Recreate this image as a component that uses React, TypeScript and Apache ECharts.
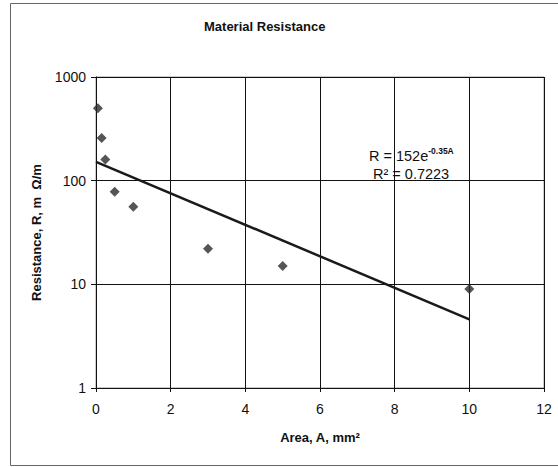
import React, { useEffect, useRef } from "react";
import * as echarts from "echarts";

const areas = [0.05, 0.15, 0.25, 0.5, 1, 3, 5, 10];
const resistances = [500, 258, 160, 78, 56, 22, 15, 9];
const trendAreas = [0, 10];
const trendValues = [152, 4.6];
const xTicks = [0, 2, 4, 6, 8, 10, 12];
const yTicks = [1, 10, 100, 1000];

const FONT = "'Liberation Sans', Arial, sans-serif";

export default function App() {
  const ref = useRef<HTMLDivElement>(null);
  useEffect(() => {
    document.body.style.margin = "0";
    const chart = echarts.init(ref.current!, null, { renderer: "svg" });
    chart.setOption({
      animation: false,
      backgroundColor: "#ffffff",
      textStyle: { fontFamily: FONT },
      title: {
        text: "Material Resistance",
        left: 204,
        top: 20,
        padding: 0,
        textStyle: { fontFamily: FONT, fontSize: 13, fontWeight: "bold", color: "#111" },
      },
      grid: {
        left: 96,
        right: 14,
        top: 77,
        bottom: 79,
        show: true,
        borderColor: "#999",
        borderWidth: 1,
      },
      xAxis: {
        type: "value",
        min: xTicks[0],
        max: xTicks[xTicks.length - 1],
        interval: 2,
        name: "Area, A, mm²",
        nameLocation: "middle",
        nameGap: 43,
        nameTextStyle: { fontFamily: FONT, fontSize: 13, fontWeight: "bold", color: "#111" },
        axisLine: { show: true, lineStyle: { color: "#111", width: 1 } },
        axisTick: { show: true, length: 4, lineStyle: { color: "#111" } },
        axisLabel: { fontFamily: FONT, fontSize: 14, color: "#111", margin: 14 },
        splitLine: { show: true, lineStyle: { color: "#111", width: 1 } },
      },
      yAxis: {
        type: "log",
        logBase: 10,
        min: yTicks[0],
        max: yTicks[yTicks.length - 1],
        name: "Resistance, R, m  Ω/m",
        nameLocation: "middle",
        nameGap: 53,
        nameTextStyle: { fontFamily: FONT, fontSize: 13, fontWeight: "bold", color: "#111" },
        axisLine: { show: true, lineStyle: { color: "#111", width: 1 } },
        axisTick: { show: true, length: 5, lineStyle: { color: "#111" } },
        axisLabel: {
          fontFamily: FONT,
          fontSize: 14,
          color: "#111",
          margin: 10,
          formatter: (v: number) => String(Math.round(v)),
        },
        splitLine: { show: true, lineStyle: { color: "#111", width: 1 } },
      },
      series: [
        {
          type: "line",
          data: trendAreas.map((a, i) => [a, trendValues[i]]),
          showSymbol: false,
          symbol: "none",
          lineStyle: { color: "#1a1a1a", width: 2.5 },
          z: 3,
        },
        {
          type: "scatter",
          data: areas.map((a, i) => [a, resistances[i]]),
          symbol: "diamond",
          symbolSize: 10,
          itemStyle: { color: "#2a2a2a" },
          z: 4,
        },
      ],
      graphic: [
        {
          type: "rect",
          shape: { x: 10.5, y: 3.5, width: 560, height: 462 },
          style: { fill: "none", stroke: "#666", lineWidth: 1 },
          silent: true,
        },
        {
          type: "text",
          left: 369,
          top: 146,
          style: {
            text: "{a|R = 152e}{s|-0.35A}",
            rich: {
              a: { fontFamily: FONT, fontSize: 14.5, fill: "#111", lineHeight: 17, verticalAlign: "bottom" },
              s: { fontFamily: FONT, fontSize: 8.5, fontWeight: "bold", fill: "#111", lineHeight: 17, verticalAlign: "top", padding: [0, 0, 8, 0] },
            },
          },
        },
        {
          type: "text",
          left: 373,
          top: 166,
          style: {
            text: "R² = 0.7223",
            fontFamily: FONT,
            fontSize: 14.5,
            fill: "#111",
          },
        },
      ],
    });
    return () => chart.dispose();
  }, []);
  return <div ref={ref} style={{ width: 558, height: 467 }} />;
}
